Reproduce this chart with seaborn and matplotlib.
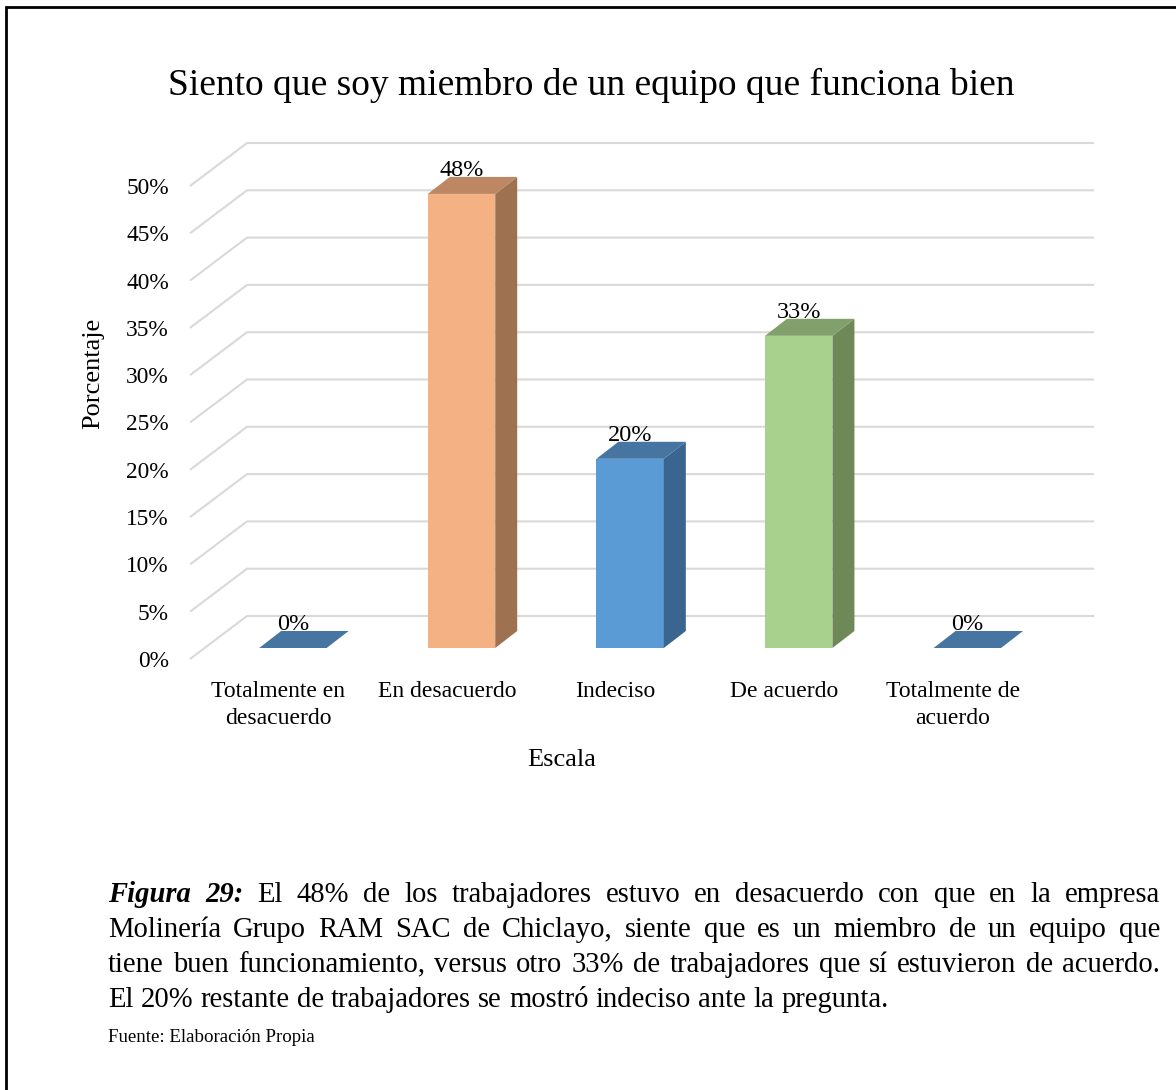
import numpy as np
import matplotlib
matplotlib.use('Agg')
import matplotlib.pyplot as plt
import matplotlib.transforms as mtransforms
from matplotlib.patches import Rectangle
import seaborn as sns

# Datos del grafico
categorias = ['Totalmente en desacuerdo', 'En desacuerdo', 'Indeciso', 'De acuerdo', 'Totalmente de acuerdo']
etiquetas_x = ['Totalmente en\ndesacuerdo', 'En desacuerdo', 'Indeciso', 'De acuerdo', 'Totalmente de\nacuerdo']
porcentajes = [0.00, 0.48, 0.20, 0.33, 0.00]
ticks_y = [0.00, 0.05, 0.10, 0.15, 0.20, 0.25, 0.30, 0.35, 0.40, 0.45, 0.50]

titulo = 'Siento que soy miembro de un equipo que funciona bien'
lineas_nota = [
    'El 48% de los trabajadores estuvo en desacuerdo con que en la empresa',
    'Molinería Grupo RAM SAC de Chiclayo, siente que es un miembro de un equipo que',
    'tiene buen funcionamiento, versus otro 33% de trabajadores que sí estuvieron de acuerdo.',
    'El 20% restante de trabajadores se mostró indeciso ante la pregunta.',
]
fuente = 'Fuente: Elaboración Propia'

# Colores (cara frontal, lateral y superior)
col_frente = ['#5B9BD5', '#F4B183', '#5B9BD5', '#A9D18E', '#5B9BD5']
col_lado = ['#3A6590', '#9E7250', '#3A6590', '#6E8857', '#3A6590']
col_tapa = ['#4675A2', '#BC8762', '#4675A2', '#82A06B', '#4675A2']

sns.set_style('white')
plt.rcParams['font.family'] = ['Liberation Serif', 'DejaVu Serif']
plt.rcParams['text.color'] = 'black'
plt.rcParams['xtick.color'] = 'black'
plt.rcParams['ytick.color'] = 'black'
plt.rcParams['axes.labelcolor'] = 'black'

W, H = 1176, 1090
fig = plt.figure(figsize=(W / 100, H / 100), dpi=100)
ax = fig.add_axes([194 / W, 431 / H, 843 / W, 473 / H])

# desplazamientos en pixeles (efecto 3D)
BAR_DX, BAR_DY = 14.6, 11      # plano de las barras
FON_DX, FON_DY = 57, 43        # pared del fondo
PRO_DX, PRO_DY = 22, 17        # profundidad de la barra

sns.barplot(x=categorias, y=porcentajes, hue=categorias, palette=col_frente,
            width=0.4, legend=False, ax=ax, zorder=3, saturation=1, linewidth=0)
ax.set_xlim(-0.5, 4.5)
ax.set_ylim(0, 0.5)

off_bar = mtransforms.ScaledTranslation(BAR_DX / 100, BAR_DY / 100, fig.dpi_scale_trans)
for p in ax.patches:
    p.set_transform(ax.transData + off_bar)
    p.set_clip_on(False)


def mover(x, y, dx, dy):
    px, py = ax.transData.transform((x, y))
    return ax.transData.inverted().transform((px + dx, py + dy))


# lineas de division (piso frontal + pared del fondo)
for t in ticks_y:
    a = mover(-0.5, t, -4, 0)
    b = mover(-0.5, t, FON_DX - 4, FON_DY)
    c = mover(4.5, t, FON_DX, FON_DY)
    ax.plot([a[0], b[0], c[0]], [a[1], b[1], c[1]], color='#d9d9d9', lw=1.5,
            zorder=1, clip_on=False, solid_capstyle='butt')

# caras laterales y superiores
for i, v in enumerate(porcentajes):
    x0, x1 = i - 0.2, i + 0.2
    fb = mover(x1, 0, BAR_DX, BAR_DY)
    ft = mover(x1, v, BAR_DX, BAR_DY)
    bt = mover(x1, v, BAR_DX + PRO_DX, BAR_DY + PRO_DY)
    bb = mover(x1, 0, BAR_DX + PRO_DX, BAR_DY + PRO_DY)
    if v > 0:
        ax.fill([fb[0], ft[0], bt[0], bb[0]], [fb[1], ft[1], bt[1], bb[1]],
                color=col_lado[i], zorder=3, clip_on=False, lw=0)
    fl = mover(x0, v, BAR_DX, BAR_DY)
    bl = mover(x0, v, BAR_DX + PRO_DX, BAR_DY + PRO_DY)
    ax.fill([fl[0], ft[0], bt[0], bl[0]], [fl[1], ft[1], bt[1], bl[1]],
            color=col_tapa[i], zorder=3, clip_on=False, lw=0)
    ax.annotate(f'{v:.0%}', xy=(i, v), xytext=(BAR_DX * 0.72, (BAR_DY + 23) * 0.72),
                textcoords='offset points', ha='center', va='center',
                fontsize=17.5, color='black', zorder=5, annotation_clip=False)

for s in ax.spines.values():
    s.set_visible(False)
ax.set_yticks(ticks_y)
ax.set_yticklabels([f'{int(round(t * 100))}%' for t in ticks_y])
ax.set_xticks(range(len(categorias)))
ax.set_xticklabels(etiquetas_x, linespacing=1.35)
ax.tick_params(axis='x', length=0, pad=16, labelsize=17)
ax.tick_params(axis='y', length=0, pad=18, labelsize=16.8)
ax.set_ylabel('Porcentaje', fontsize=19)
ax.yaxis.set_label_coords(-0.12, 0.603)
ax.yaxis.label.set_va('center')
ax.set_xlabel('Escala', fontsize=19)
ax.xaxis.set_label_coords(0.4366, -0.2135)
ax.xaxis.label.set_va('center')
ax.set_facecolor('none')

fig.text(591 / W, 1 - 85 / H, titulo, ha='center', va='center', fontsize=27)

# nota de la figura (texto justificado)
renderer = fig.canvas.get_renderer()
IZQ, DER = 108, 1160
FS = 20.6


def linea(palabras, y, justificar=True):
    textos = []
    for w, kw in palabras:
        textos.append(fig.text(0, 1 - y / H, w, ha='left', va='center', fontsize=FS, **kw))
    anchos = [t.get_window_extent(renderer).width for t in textos]
    if justificar and len(textos) > 1:
        hueco = (DER - IZQ - sum(anchos)) / (len(textos) - 1)
    else:
        hueco = FS * 1.389 * 0.25
    x = IZQ
    for t, a in zip(textos, anchos):
        t.set_x(x / W)
        x += a + hueco


ys = [895, 930, 965, 1000]
bi = dict(fontweight='bold', fontstyle='italic')
for k, (txt, y) in enumerate(zip(lineas_nota, ys)):
    pal = [(w, {}) for w in txt.split(' ')]
    if k == 0:
        pal = [('Figura', bi), ('29:', bi)] + pal
    linea(pal, y, justificar=(k < 3))

fig.text(IZQ / W, 1 - 1037 / H, fuente, ha='left', va='center', fontsize=13.6)

# marco
fig.patches.append(Rectangle((6 / W, -0.5), 2, 0.5 + 1 - 7 / H, transform=fig.transFigure,
                             fill=False, lw=2, edgecolor='black'))

fig.savefig('out.png', dpi=100)
